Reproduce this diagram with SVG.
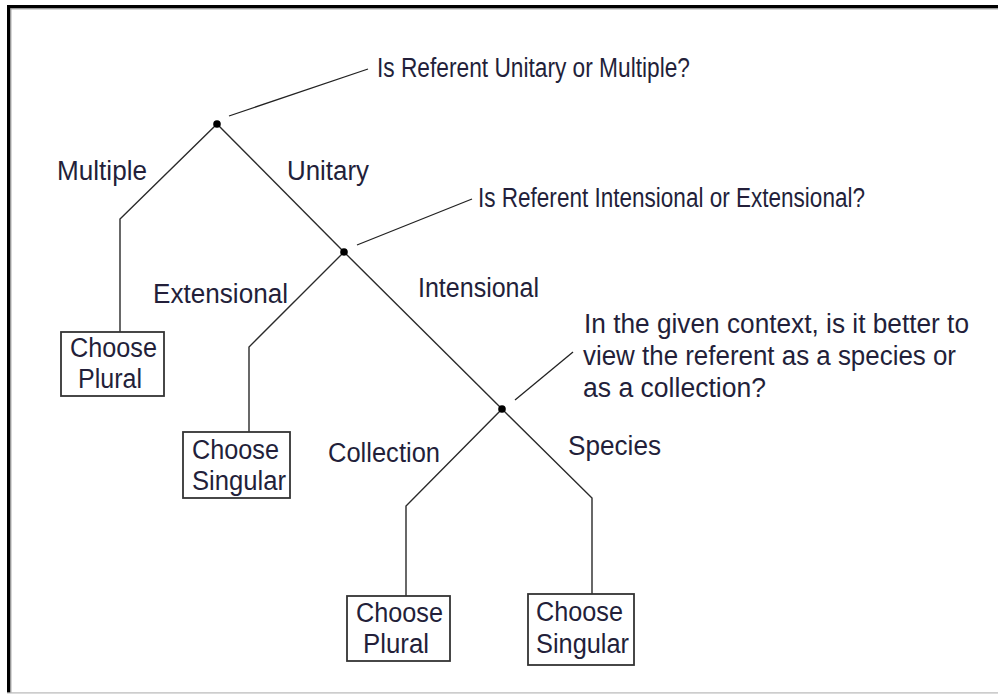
<svg xmlns="http://www.w3.org/2000/svg" width="998" height="694" viewBox="0 0 998 694">
  <style>
    .t { font-family: "Liberation Sans", Arial, sans-serif; font-size: 27px; fill: #231f3a; }
    .edge { fill: none; stroke: #2a2a2a; stroke-width: 1.4; }
    .lead { fill: none; stroke: #222; stroke-width: 1.3; }
    .box { fill: #fff; stroke: #333; stroke-width: 1.8; }
    .dot { fill: #000; }
  </style>
  <rect width="998" height="694" fill="#fff"/>

  <!-- frame -->
  <g id="frame">
    <rect x="7" y="5" width="991" height="3.4" fill="#000"/>
    <rect x="7" y="5" width="3.4" height="688" fill="#000"/>
    <rect x="10.4" y="8.4" width="987.6" height="1" fill="#9a9a9a"/>
    <rect x="10.4" y="8.4" width="1" height="684.6" fill="#9a9a9a"/>
    <rect x="7" y="692.3" width="991" height="1.2" fill="#b8b8b8"/>
  </g>

  <!-- tree branches and leader lines -->
  <g id="connectors">
    <path class="edge" d="M217,124 L120,219 L120,332"/>
    <path class="edge" d="M217,124 L344,252"/>
    <path class="edge" d="M344,252 L249,347 L249,432"/>
    <path class="edge" d="M344,252 L502,409"/>
    <path class="edge" d="M502,409 L406,506 L406,596"/>
    <path class="edge" d="M502,409 L592,498 L592,594"/>
    <path class="lead" d="M229,116 L368,69"/>
    <path class="lead" d="M357,245 L472,199"/>
    <path class="lead" d="M515,400 L573,352"/>
  </g>

  <!-- decision points -->
  <g id="q1">
    <circle class="dot" cx="217" cy="124" r="3.8"/>
    <text class="t" x="377" y="77" textLength="313" lengthAdjust="spacingAndGlyphs">Is Referent Unitary or Multiple?</text>
  </g>
  <g id="q2">
    <circle class="dot" cx="344" cy="252" r="3.8"/>
    <text class="t" x="478" y="207" textLength="387" lengthAdjust="spacingAndGlyphs">Is Referent Intensional or Extensional?</text>
  </g>
  <g id="q3">
    <circle class="dot" cx="502" cy="409" r="3.8"/>
    <text class="t" x="584" y="333" textLength="385" lengthAdjust="spacingAndGlyphs">In the given context, is it better to</text>
    <text class="t" x="583" y="365" textLength="373" lengthAdjust="spacingAndGlyphs">view the referent as a species or</text>
    <text class="t" x="583" y="397" textLength="183" lengthAdjust="spacingAndGlyphs">as a collection?</text>
  </g>

  <!-- branch labels -->
  <g id="labels">
    <text class="t" x="57" y="180" textLength="90" lengthAdjust="spacingAndGlyphs">Multiple</text>
    <text class="t" x="287" y="180" textLength="82" lengthAdjust="spacingAndGlyphs">Unitary</text>
    <text class="t" x="153" y="303" textLength="135" lengthAdjust="spacingAndGlyphs">Extensional</text>
    <text class="t" x="418" y="297" textLength="121" lengthAdjust="spacingAndGlyphs">Intensional</text>
    <text class="t" x="328" y="462" textLength="112" lengthAdjust="spacingAndGlyphs">Collection</text>
    <text class="t" x="568" y="455" textLength="93" lengthAdjust="spacingAndGlyphs">Species</text>
  </g>

  <!-- outcomes -->
  <g id="plural1">
    <rect class="box" x="61" y="332" width="103" height="64"/>
    <text class="t" x="70" y="357" textLength="87" lengthAdjust="spacingAndGlyphs">Choose</text>
    <text class="t" x="78" y="388" textLength="64" lengthAdjust="spacingAndGlyphs">Plural</text>
  </g>
  <g id="singular1">
    <rect class="box" x="183" y="432" width="107" height="66"/>
    <text class="t" x="192" y="459" textLength="87" lengthAdjust="spacingAndGlyphs">Choose</text>
    <text class="t" x="192" y="490" textLength="94" lengthAdjust="spacingAndGlyphs">Singular</text>
  </g>
  <g id="plural2">
    <rect class="box" x="347" y="596" width="103" height="65"/>
    <text class="t" x="356" y="622" textLength="87" lengthAdjust="spacingAndGlyphs">Choose</text>
    <text class="t" x="363" y="653" textLength="66" lengthAdjust="spacingAndGlyphs">Plural</text>
  </g>
  <g id="singular2">
    <rect class="box" x="528" y="594" width="106" height="71"/>
    <text class="t" x="536" y="621" textLength="87" lengthAdjust="spacingAndGlyphs">Choose</text>
    <text class="t" x="536" y="653" textLength="93" lengthAdjust="spacingAndGlyphs">Singular</text>
  </g>
</svg>
